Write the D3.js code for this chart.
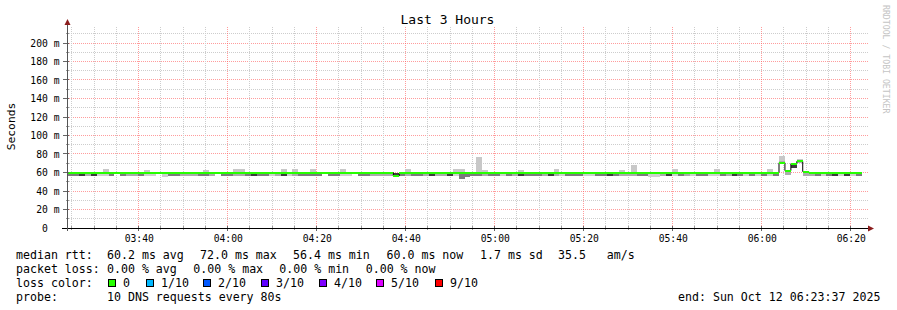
<!DOCTYPE html>
<html><head><meta charset="utf-8">
<script src="https://cdn.jsdelivr.net/npm/d3@7/dist/d3.min.js"></script>
<style>
body{margin:0;background:#fff}
svg{display:block}
text{font-family:"DejaVu Sans Mono",monospace;white-space:pre}
</style>
</head><body>
<svg id="c" width="897" height="310"></svg>
<script>
// ---------------- data ----------------
const title = "Last 3 Hours";
const yAxisTitle = "Seconds";
const watermark = "RRDTOOL / TOBI OETIKER";
const yTicks = [0,20,40,60,80,100,120,140,160,180,200];
const yTickLabels = ["0  ","20 m","40 m","60 m","80 m","100 m","120 m","140 m","160 m","180 m","200 m"];
const xTickLabels = ["03:40","04:00","04:20","04:40","05:00","05:20","05:40","06:00","06:20"];
const startTime = new Date(2025, 9, 12, 3, 23, 53);
const endTime   = new Date(2025, 9, 12, 6, 23, 53);
const stepSeconds = 80;

// median rtt per 80 s step (ms)
const median = [
 60,60,60,60,60,60,60,60,60,60,
 60,60,60,60,60,60,60,60,60,60,
 60,60,60,60,60,60,60,60,60,60,
 60,60,60,60,60,60,60,60,60,60,
 60,60,60,60,60,60,60,60,60,60,
 60,60,60,60,60,56.4,59.5,60,60,60,
 60,60,60,60,60,60,60,60,60,60,
 60,60,60,60,60,60,60,60,60,60,
 60,60,60,60,60,60,60,60,60,60,
 60,60,60,60,60,60,60,60,60,60,
 60,60,60,60,60,60,60,60,60,60,
 60,60,60,60,60,60,60,60,60,60,
 70.5,62,69.5,72,61,60,60,60,60,60,
 60,60,60,60];
// core smoke: lower and upper bound (ms) and density (0 none .. 4 dense)
const smokeLow = [
 56,56,56,56,56,56,56,56,60,56,
 56,56,56,56,56,60,55.5,56,56,56,
 56,56,56,56,56,60,56,56,56,56,
 56,56,56,56,56,56,56,56,56,56,
 56,56,56,60,56,56,56,56,60,56,
 56,56,56,56,56,56.4,56,56,56,56,
 56,56,56,56,56,56,53.5,55,56,56,
 56,56,56,56,56,56,56,56,56,56,
 56,56,56,56,56,56,56,56,56,56,
 56,56,56,56,56,56,56,56,55,55,
 56,56,56,56,56,56,56,56,56,56,
 56,56,56,56,56,56,56,56,56,56,
 69,57.5,65,70.5,56.5,56,56,56,56,56,
 56,56,56,56];
const smokeHigh = [
 60,60,60,60,60,60,60,60,60,60,
 60,60,60,60,60,60,60,60,60,60,
 60,60,60,60,60,60,60,60,60,60,
 60,60,60,60,60,60,60,60,60,60,
 60,60,60,60,60,60,60,60,60,60,
 60,60,60,60,60,60,59.5,60,60,60,
 60,60,60,60,60,60,60,60,60,60,
 60,60,60,60,60,60,60,60,60,60,
 60,60,60,60,60,60,60,60,60,60,
 60,60,60,60,60,60,60,60,60,60,
 60,60,60,60,60,60,60,60,60,60,
 60,60,60,60,60,60,60,60,60,60,
 72,62,70,72,61,60,60,60,60,60,
 60,60,60,60];
const smokeDensity = [
 3,3,4,2,4,1,1,3,0,3,
 2,2,3,1,1,0,1,3,3,2,
 2,2,3,3,2,0,3,3,2,2,
 3,4,3,3,1,2,4,1,2,3,
 3,3,3,0,3,3,1,1,0,3,
 3,2,2,2,2,4,3,2,3,3,
 2,4,2,2,4,1,3,3,3,3,
 2,3,3,1,3,2,4,3,3,3,
 2,4,2,1,3,3,3,1,1,3,
 3,4,3,2,2,2,3,3,1,1,
 2,4,1,3,2,1,3,3,1,1,
 3,2,4,3,1,3,1,3,1,3,
 2,2,4,2,2,2,3,1,3,4,
 1,4,1,3];
// highest ping of the step when it sticks out above the core (0 = none)
const smokePeak = [
 0,0,0,0,0,0,64,0,0,0,
 0,0,0,63,0,0,0,0,0,0,
 0,0,0,62.5,0,0,0,0,64,64,
 0,0,0,0,0,0,64,0,63.5,0,
 0,64,0,0,0,0,64,0,0,0,
 0,0,0,0,0,0,0,64,0,0,
 0,0,0,0,0,64,64,0,0,77,
 62.5,0,0,0,0,0,63,0,0,0,
 0,0,64,0,0,0,0,0,0,0,
 0,0,0,63,0,68,0,0,0,0,
 0,0,64,0,0,0,0,0,0,64,
 0,0,0,0,0,0,0,0,64,0,
 78,0,0,75,0,0,0,0,0,0,
 0,0,0,0];

const statLabels = ["median rtt:","packet loss:","loss color:","probe:"];
const rttStats = ["60.2 ms avg","72.0 ms max","56.4 ms min","60.0 ms now","1.7 ms sd","35.5   am/s"];
const lossStats = ["0.00 % avg","0.00 % max","0.00 % min","0.00 % now"];
const lossLegend = ["0","1/10","2/10","3/10","4/10","5/10","9/10"];
const probeText = "10 DNS requests every 80s";
const endText = "end: Sun Oct 12 06:23:37 2025";

// ---------------- drawing ----------------
const lossPalette = ["#26ff00","#00b8ff","#0059ff","#5e00ff","#7e00ff","#dd00ff","#ff0000"];
const densityPalette = [null,"#d0d0d0","#acacac","#7c7c7c","#3c3c3c"];
const peakColor = "#c8c8c8";
const majorGrid = "#ff5a5a", minorGrid = "#cdcdcd";

const svg = d3.select("#c");
const L = 67, R = 868, B = 228, T = 26;
const x = d3.scaleTime().domain([startTime, endTime]).range([L, R]);
const y = d3.scaleLinear().domain([0, 200]).range([228, 43]);
const px = v => Math.floor(v) + 0.5;

// grid: minor (grey, dotted) and major (red, dotted)
const grid = svg.append("g");
const hv = d3.range(10, 211, 10);
grid.selectAll("line.h").data(hv).join("line")
  .attr("x1", L).attr("x2", R).attr("y1", d => px(y(d))).attr("y2", d => px(y(d)))
  .style("stroke", d => d % 20 === 0 ? majorGrid : minorGrid)
  .style("stroke-opacity", d => d % 20 === 0 ? 0.6 : 1)
  .style("stroke-dasharray", "1 1");
const vv = d3.timeMinute.every(5).range(startTime, endTime);
grid.selectAll("line.v").data(vv).join("line")
  .attr("y1", B).attr("y2", T).attr("x1", d => px(x(d))).attr("x2", d => px(x(d)))
  .style("stroke", d => d.getMinutes() % 20 === 0 ? majorGrid : minorGrid)
  .style("stroke-opacity", d => d.getMinutes() % 20 === 0 ? 0.6 : 1)
  .style("stroke-dasharray", "1 1");

// smoke
const steps = median.map((m, i) => {
  const t0 = new Date(startTime.getTime() + i * stepSeconds * 1000);
  const t1 = new Date(t0.getTime() + stepSeconds * 1000);
  return {i, t0, t1, m, lo: smokeLow[i], hi: smokeHigh[i], d: smokeDensity[i], pk: smokePeak[i]};
});
const smoke = svg.append("g").attr("shape-rendering", "crispEdges");
steps.filter(s => s.pk > s.hi).forEach(s => {
  smoke.append("rect").attr("x", x(s.t0)).attr("width", x(s.t1) - x(s.t0))
    .attr("y", y(s.pk)).attr("height", y(s.hi) - y(s.pk)).attr("fill", peakColor);
});
steps.filter(s => s.d > 0 && s.hi > s.lo).forEach(s => {
  smoke.append("rect").attr("x", x(s.t0)).attr("width", x(s.t1) - x(s.t0))
    .attr("y", y(s.hi)).attr("height", y(s.lo) - y(s.hi)).attr("fill", densityPalette[s.d]);
});

// median line (black step line) + loss colour band
const pts = steps.map(s => [s.t0, s.m]);
pts.push([steps[steps.length - 1].t1, median[median.length - 1]]);
svg.append("path").attr("d", d3.line().x(d => x(d[0])).y(d => y(d[1])).curve(d3.curveStepAfter)(pts))
  .attr("fill", "none").attr("stroke", "#000").attr("stroke-width", 1);
const band = svg.append("g").attr("shape-rendering", "crispEdges");
steps.forEach(s => {
  band.append("rect").attr("x", x(s.t0)).attr("width", x(s.t1) - x(s.t0))
    .attr("y", Math.round(y(s.m)) - 1).attr("height", 2).attr("fill", lossPalette[0]);
});

// axes
const xTickTimes = xTickLabels.map(l => {
  const [h, mi] = l.split(":").map(Number);
  return new Date(2025, 9, 12, h, mi, 0);
});
const gx = svg.append("g").attr("transform", `translate(0,${B})`)
  .call(d3.axisBottom(x).tickValues(xTickTimes).tickSize(0).tickPadding(7)
    .tickFormat((d, i) => xTickLabels[i]));
gx.select(".domain").remove();
gx.selectAll("text").attr("font-family", "DejaVu Sans Mono").attr("font-size", 9.7).attr("fill", "#000");

const gy = svg.append("g").attr("transform", `translate(${L},0)`)
  .call(d3.axisLeft(y).tickValues(yTicks).tickSize(0).tickPadding(7.5)
    .tickFormat((d, i) => yTickLabels[i]));
gy.select(".domain").remove();
gy.selectAll("text").attr("font-family", "DejaVu Sans Mono").attr("font-size", 9.7).attr("fill", "#000");

// tick marks
const tk = svg.append("g").attr("shape-rendering", "crispEdges");
yTicks.forEach(v => tk.append("line").attr("x1", L - 4).attr("x2", L + 2)
  .attr("y1", px(y(v))).attr("y2", px(y(v))).attr("stroke", "#666"));
d3.range(10, 211, 20).forEach(v => tk.append("line").attr("x1", L - 1).attr("x2", L + 2)
  .attr("y1", px(y(v))).attr("y2", px(y(v))).attr("stroke", "#999"));
vv.forEach(t => {
  const major = t.getMinutes() % 20 === 0;
  tk.append("line").attr("x1", px(x(t))).attr("x2", px(x(t))).attr("y1", B - 2).attr("y2", B + (major ? 3 : 2))
    .attr("stroke", major ? "#666" : "#999");
});

// axis lines and arrows
svg.append("line").attr("x1", 62).attr("x2", R + 1).attr("y1", B + 0.5).attr("y2", B + 0.5)
  .attr("stroke", "#000").attr("shape-rendering", "crispEdges");
svg.append("line").attr("x1", L + 0.5).attr("x2", L + 0.5).attr("y1", B + 3).attr("y2", 23)
  .attr("stroke", "#555").attr("shape-rendering", "crispEdges");
svg.append("path").attr("d", `M${L + 0.5},19 L${L - 2.5},25 L${L + 3.5},25 Z`).attr("fill", "#8b1d1d");
svg.append("path").attr("d", `M${R + 6},${B + 0.5} L${R},${B - 2.5} L${R},${B + 3.5} Z`).attr("fill", "#8b1d1d");

// titles
svg.append("text").attr("x", 447.5).attr("y", 24).attr("text-anchor", "middle")
  .attr("font-size", 13).text(title);
svg.append("text").attr("transform", "translate(15,126.5) rotate(-90)").attr("text-anchor", "middle")
  .attr("font-size", 11.3).text(yAxisTitle);
svg.append("text").attr("transform", "translate(883,5) rotate(90)").attr("font-size", 8.2)
  .attr("fill", "#c4c4c4").text(watermark);

// legend
const fs = 11.6;
const rowsY = [258.5, 272.5, 286.5, 300.5];
statLabels.forEach((s, i) => svg.append("text").attr("x", 16).attr("y", rowsY[i]).attr("font-size", fs).text(s));
const rttX = [107, 200, 293, 386.5, 480, 558];
rttStats.forEach((s, i) => svg.append("text").attr("x", rttX[i]).attr("y", rowsY[0]).attr("font-size", fs).text(s));
const lossX = [107, 193.3, 279.3, 365.7];
lossStats.forEach((s, i) => svg.append("text").attr("x", lossX[i]).attr("y", rowsY[1]).attr("font-size", fs).text(s));
const boxX = [108.5, 146.5, 203.5, 261.5, 319.5, 376.5, 435.5];
lossLegend.forEach((s, i) => {
  svg.append("rect").attr("x", boxX[i]).attr("y", 279.5).attr("width", 7).attr("height", 7)
    .attr("fill", lossPalette[i]).attr("stroke", "#000").attr("stroke-width", 1);
  svg.append("text").attr("x", boxX[i] + 14.5).attr("y", rowsY[2]).attr("font-size", fs).text(s);
});
svg.append("text").attr("x", 107).attr("y", rowsY[3]).attr("font-size", fs).text(probeText);
svg.append("text").attr("x", 678).attr("y", rowsY[3]).attr("font-size", fs).text(endText);
</script>
</body></html>
